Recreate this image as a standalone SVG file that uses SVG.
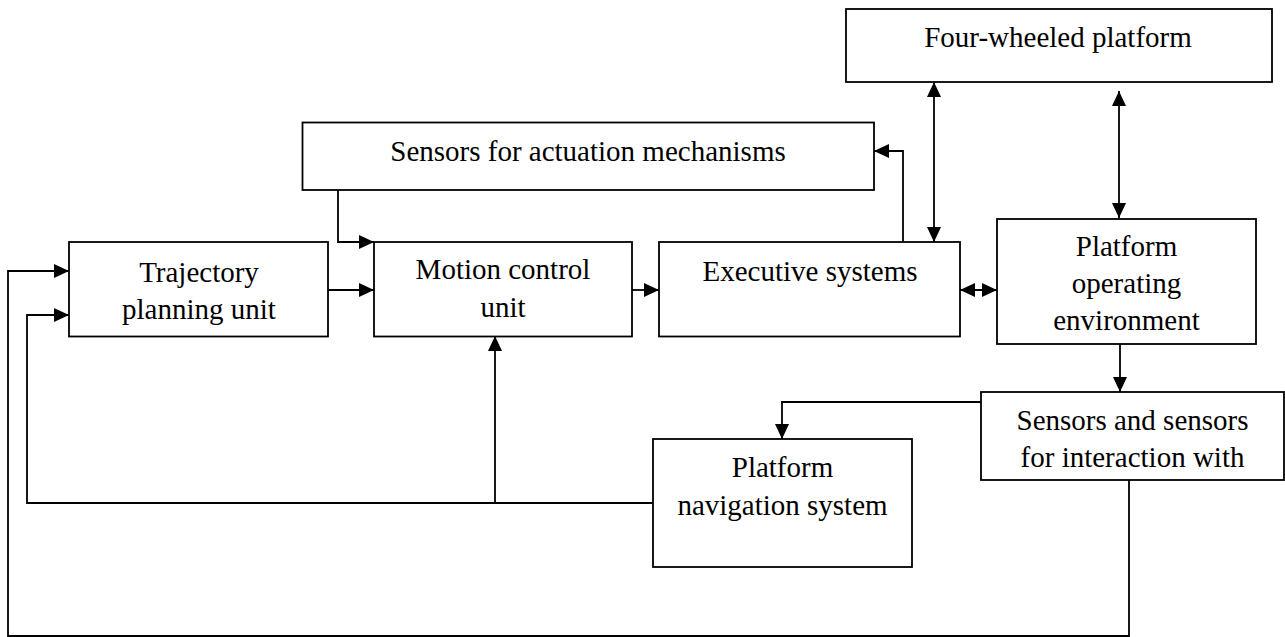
<svg xmlns="http://www.w3.org/2000/svg" width="1285" height="637" viewBox="0 0 1285 637">
<style>
.box{fill:#fff;stroke:#000;stroke-width:1.8}
.ln{fill:none;stroke:#000;stroke-width:1.8}
text{font-family:"Liberation Serif","Times New Roman",serif;font-size:29px;fill:#000;text-anchor:middle}
</style>
<defs>
<marker id="ah" viewBox="0 0 15 14" refX="15" refY="7" markerWidth="15" markerHeight="14" markerUnits="userSpaceOnUse" orient="auto-start-reverse">
<path d="M0,0 L15,7 L0,14 Z" fill="#000"/>
</marker>
</defs>
<rect width="1285" height="637" fill="#fff"/>
<g id="connectors">
<path class="ln" d="M338,190 V242 H374" marker-end="url(#ah)"/>
<path class="ln" d="M328,290 H374" marker-end="url(#ah)"/>
<path class="ln" d="M632,290 H659" marker-end="url(#ah)"/>
<path class="ln" d="M903,242 V151 H874" marker-end="url(#ah)"/>
<path class="ln" d="M934,82 V242" marker-start="url(#ah)" marker-end="url(#ah)"/>
<path class="ln" d="M1119,91 V218" marker-start="url(#ah)" marker-end="url(#ah)"/>
<path class="ln" d="M960,290 H997" marker-start="url(#ah)" marker-end="url(#ah)"/>
<path class="ln" d="M1120,344 V392" marker-end="url(#ah)"/>
<path class="ln" d="M981,402 H782 V439" marker-end="url(#ah)"/>
<path class="ln" d="M653,503 H27 V315 H69" marker-end="url(#ah)"/>
<path class="ln" d="M495,503 V336" marker-end="url(#ah)"/>
<path class="ln" d="M1129,480 V636 H8 V271 H69" marker-end="url(#ah)"/>
</g>
<g id="four-wheeled-platform">
<rect class="box" x="846" y="9" width="426" height="73"/>
<text x="1058" y="47">Four-wheeled platform</text>
</g>
<g id="sensors-actuation">
<rect class="box" x="302.5" y="122.5" width="571.5" height="67.5"/>
<text x="588" y="161">Sensors for actuation mechanisms</text>
</g>
<g id="trajectory-planning">
<rect class="box" x="69" y="242" width="259" height="94.5"/>
<text x="199" y="282">Trajectory</text>
<text x="199" y="319">planning unit</text>
</g>
<g id="motion-control">
<rect class="box" x="374" y="242" width="258" height="94.5"/>
<text x="503" y="279">Motion control</text>
<text x="503" y="317">unit</text>
</g>
<g id="executive-systems">
<rect class="box" x="659" y="242" width="301" height="94.5"/>
<text x="810" y="281">Executive systems</text>
</g>
<g id="operating-environment">
<rect class="box" x="997" y="219" width="259" height="125"/>
<text x="1126.5" y="256">Platform</text>
<text x="1126.5" y="293">operating</text>
<text x="1126.5" y="330">environment</text>
</g>
<g id="interaction-sensors">
<rect class="box" x="981" y="392" width="303" height="88"/>
<text x="1132.5" y="430">Sensors and sensors</text>
<text x="1132.5" y="467">for interaction with</text>
</g>
<g id="navigation-system">
<rect class="box" x="653" y="439" width="259" height="128"/>
<text x="782.5" y="477">Platform</text>
<text x="782.5" y="515">navigation system</text>
</g>
</svg>
